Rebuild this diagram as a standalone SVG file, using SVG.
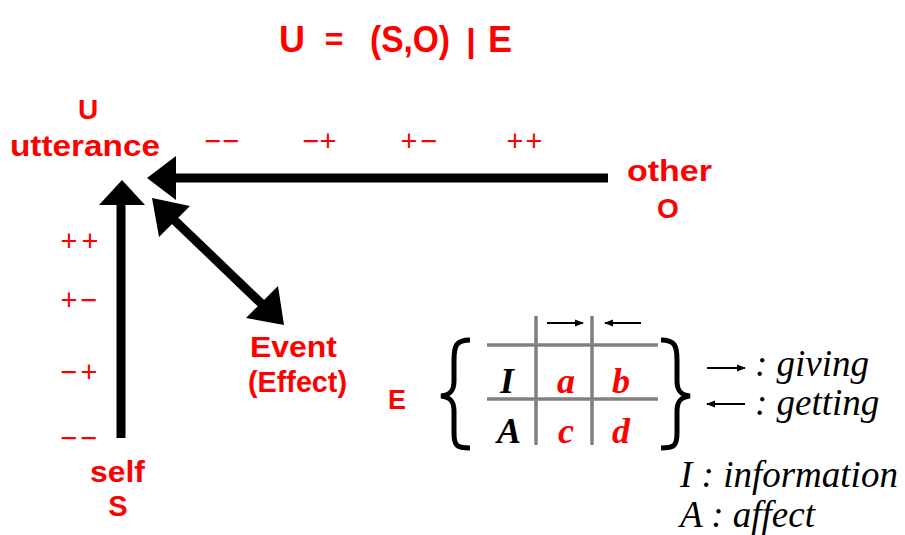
<svg xmlns="http://www.w3.org/2000/svg" width="905" height="535" viewBox="0 0 905 535">
<style>
.r{fill:#ff0000;font-family:"Liberation Sans",Arial,sans-serif;font-weight:bold}
.s{fill:#ff0000;font-family:"Liberation Sans",Arial,sans-serif;font-size:29px;text-anchor:middle}
.t{font-family:"Liberation Serif","Times New Roman",serif;font-style:italic;font-size:37px;fill:#000}
.tb{font-family:"Liberation Serif","Times New Roman",serif;font-style:italic;font-weight:bold;font-size:36px}
.g{stroke:#808080;stroke-width:3.5;fill:none}
.k{stroke:#000;stroke-width:9;fill:none}
.th{stroke:#000;stroke-width:1.8;fill:none}
</style>
<defs>
<marker id="ah" viewBox="0 0 10 10" refX="9" refY="5" markerWidth="9" markerHeight="9" markerUnits="userSpaceOnUse" orient="auto"><path d="M0,1 L10,5 L0,9 Z" fill="#000"/></marker>
</defs>
<rect width="905" height="535" fill="#fff"/>
<g id="title">
<text class="r" x="292" y="52" font-size="36" text-anchor="middle">U</text>
<text class="r" x="334" y="50" font-size="32" text-anchor="middle">=</text>
<text class="r" x="410" y="52" font-size="36" text-anchor="middle" textLength="80" lengthAdjust="spacingAndGlyphs">(S,O)</text>
<text class="r" x="471" y="52" font-size="34" text-anchor="middle">|</text>
<text class="r" x="500" y="52" font-size="36" text-anchor="middle">E</text>
</g>

<g id="utterance">
<text class="r" x="88" y="119" font-size="28" text-anchor="middle">U</text>
<text class="r" x="10" y="156" font-size="29" textLength="150" lengthAdjust="spacingAndGlyphs">utterance</text>
</g>
<g id="other">
<text class="r" x="627" y="181" font-size="29" textLength="85" lengthAdjust="spacingAndGlyphs">other</text>
<text class="r" x="668" y="218" font-size="28" text-anchor="middle">O</text>
</g>
<g id="self">
<text class="r" x="90" y="482" font-size="29" textLength="55" lengthAdjust="spacingAndGlyphs">self</text>
<text class="r" x="118" y="516" font-size="29" text-anchor="middle">S</text>
</g>
<g id="event">
<text class="r" x="250" y="357" font-size="29" textLength="87" lengthAdjust="spacingAndGlyphs">Event</text>
<text class="r" x="248" y="392" font-size="29" textLength="99" lengthAdjust="spacingAndGlyphs">(Effect)</text>
</g>

<g id="scale-labels">
<text class="s" x="213" y="151">−</text><text class="s" x="231" y="151">−</text>
<text class="s" x="311" y="151">−</text><text class="s" x="328" y="151">+</text>
<text class="s" x="409" y="151">+</text><text class="s" x="429" y="151">−</text>
<text class="s" x="515" y="151">+</text><text class="s" x="534" y="151">+</text>
<text class="s" x="69" y="251">+</text><text class="s" x="90" y="251">+</text>
<text class="s" x="69" y="310">+</text><text class="s" x="89" y="310">−</text>
<text class="s" x="69" y="382">−</text><text class="s" x="89" y="382">+</text>
<text class="s" x="69" y="448">−</text><text class="s" x="89" y="448">−</text>
</g>

<g id="connectors">
<line class="k" x1="608" y1="178" x2="172" y2="178"/>
<path d="M147,178 L176,156 L176,200 Z" fill="#000"/>
<line class="k" x1="121" y1="438" x2="121" y2="202"/>
<path d="M122,180 L99,205 L145,205 Z" fill="#000"/>
<line class="k" x1="170" y1="216" x2="266" y2="308"/>
<path d="M152,198 L190,206 L159,237 Z" fill="#000"/>
<path d="M284,325 L246,318 L278,286 Z" fill="#000"/>
</g>

<g id="E-table">
<text class="r" x="397" y="409" font-size="27" text-anchor="middle">E</text>
<path d="M470,340 C456,340 454,346 454,360 L454,381 C454,391 450,395 441,396 C450,397 454,401 454,411 L454,433 C454,446 457,448 470,448" fill="none" stroke="#000" stroke-width="5"/>
<path d="M661,340 C675,340 677,346 677,360 L677,381 C677,391 681,395 690,396 C681,397 677,401 677,411 L677,433 C677,446 674,448 661,448" fill="none" stroke="#000" stroke-width="5"/>
<line class="g" x1="487" y1="345" x2="658" y2="345"/>
<line class="g" x1="487" y1="399" x2="658" y2="399"/>
<line class="g" x1="536" y1="316" x2="536" y2="445"/>
<line class="g" x1="592" y1="316" x2="592" y2="445"/>
<line class="th" x1="547" y1="323" x2="583" y2="323" marker-end="url(#ah)"/>
<line class="th" x1="641" y1="323" x2="605" y2="323" marker-end="url(#ah)"/>
<text class="tb" x="507" y="393" text-anchor="middle" fill="#000">I</text>
<text class="tb" x="566" y="393" text-anchor="middle" fill="#ff0000">a</text>
<text class="tb" x="621" y="393" text-anchor="middle" fill="#ff0000">b</text>
<text class="tb" x="509" y="443" text-anchor="middle" fill="#000">A</text>
<text class="tb" x="566" y="443" text-anchor="middle" fill="#ff0000">c</text>
<text class="tb" x="621" y="443" text-anchor="middle" fill="#ff0000">d</text>
</g>

<g id="legend">
<line class="th" x1="707" y1="368" x2="745" y2="368" marker-end="url(#ah)"/>
<text class="t" x="755" y="376">: giving</text>
<line class="th" x1="745" y1="404" x2="707" y2="404" marker-end="url(#ah)"/>
<text class="t" x="755" y="415">: getting</text>
<text class="t" x="680" y="487">I : information</text>
<text class="t" x="680" y="527">A : affect</text>
</g>
</svg>
